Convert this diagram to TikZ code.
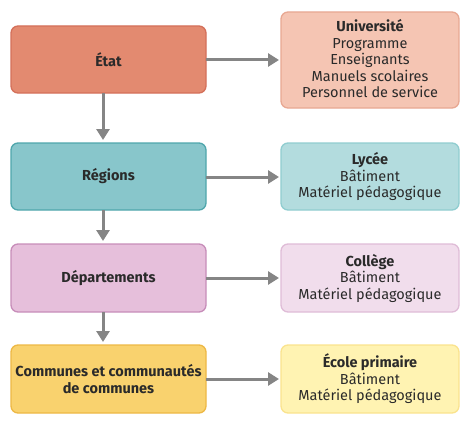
\documentclass[tikz,border=0pt]{standalone}
\usepackage{fontspec}
\setmainfont{Fira Sans}
\usetikzlibrary{arrows.meta}
\definecolor{etatF}{HTML}{E38A70}\definecolor{etatD}{HTML}{D4705A}
\definecolor{univF}{HTML}{F5C5B3}\definecolor{univD}{HTML}{E8A892}
\definecolor{regF}{HTML}{88C6CB}\definecolor{regD}{HTML}{4FA6AC}
\definecolor{lycF}{HTML}{B3DCDE}\definecolor{lycD}{HTML}{90CDD0}
\definecolor{depF}{HTML}{E6BFDB}\definecolor{depD}{HTML}{C78DB9}
\definecolor{colF}{HTML}{F1DDEC}\definecolor{colD}{HTML}{DFBCD7}
\definecolor{comF}{HTML}{F9D26E}\definecolor{comD}{HTML}{EDB845}
\definecolor{ecoF}{HTML}{FFF3B2}\definecolor{ecoD}{HTML}{FAE38E}
\definecolor{arr}{HTML}{858585}
\definecolor{txt}{HTML}{2A2A2A}
\tikzset{
  box/.style={rounded corners=7pt, line width=1.3pt, text=txt, align=center,
    font=\fontsize{14.5}{16.5}\selectfont},
  conn/.style={draw=arr, line width=3pt, -{Triangle[length=11pt,width=13pt]}}
}
\begin{document}
\begin{tikzpicture}[x=1pt,y=-1pt]
\useasboundingbox (0,0) rectangle (470,425);
% left boxes
\draw[box, fill=etatF, draw=etatD] (11,26) rectangle (206,93);
\node[box] (etat) at (108.5,59.5) {\textbf{État}};
\draw[box, fill=regF, draw=regD] (11,143) rectangle (206,210);
\node[box] (reg) at (108.5,176.5) {\textbf{Régions}};
\draw[box, fill=depF, draw=depD] (11,244) rectangle (206,312);
\node[box] (dep) at (108.5,278) {\textbf{Départements}};
\draw[box, fill=comF, draw=comD] (11,345) rectangle (206,413);
\node[box] (com) at (108.5,379) {\textbf{Communes et communautés}\\\textbf{de communes}};
% right boxes
\draw[box, fill=univF, draw=univD] (281,12) rectangle (459,108);
\node[box] (univ) at (370,59) {\textbf{Université}\\Programme\\Enseignants\\Manuels scolaires\\Personnel de service};
\draw[box, fill=lycF, draw=lycD] (281,143) rectangle (459,210);
\node[box] (lyc) at (370,176.5) {\textbf{Lycée}\\Bâtiment\\Matériel pédagogique};
\draw[box, fill=colF, draw=colD] (281,244) rectangle (459,312);
\node[box] (col) at (370,278) {\textbf{Collège}\\Bâtiment\\Matériel pédagogique};
\draw[box, fill=ecoF, draw=ecoD] (281,345) rectangle (459,413);
\node[box] (eco) at (370,379) {\textbf{École primaire}\\Bâtiment\\Matériel pédagogique};
% anchors
\coordinate (e1) at (206,60); \coordinate (e2) at (279,60);
\coordinate (r1) at (206,177); \coordinate (r2) at (279,177);
\coordinate (d1) at (206,278); \coordinate (d2) at (279,278);
\coordinate (c1) at (206,379); \coordinate (c2) at (279,379);
\coordinate (v1) at (103,93); \coordinate (v2) at (103,140);
\coordinate (v3) at (103,210); \coordinate (v4) at (103,241);
\coordinate (v5) at (103,312); \coordinate (v6) at (103,342);
\draw[conn] (e1) -- (e2);
\draw[conn] (r1) -- (r2);
\draw[conn] (d1) -- (d2);
\draw[conn] (c1) -- (c2);
\draw[conn] (v1) -- (v2);
\draw[conn] (v3) -- (v4);
\draw[conn] (v5) -- (v6);
\end{tikzpicture}
\end{document}
